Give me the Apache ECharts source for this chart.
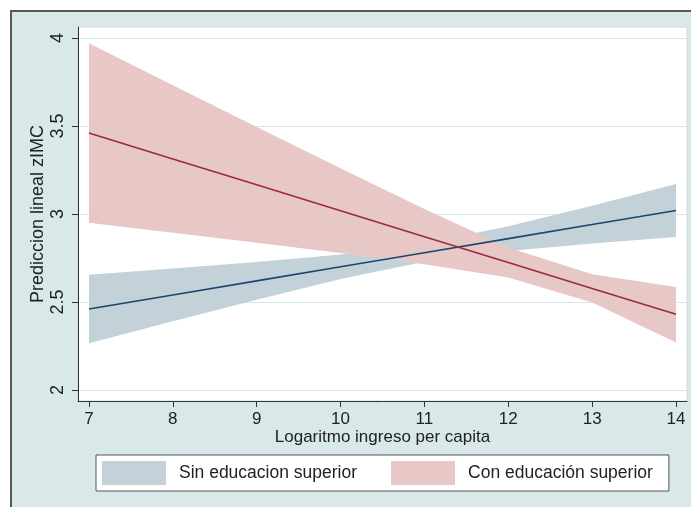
<!DOCTYPE html>
<html>
<head>
<meta charset="utf-8">
<script src="https://cdn.jsdelivr.net/npm/echarts@6/dist/echarts.min.js"></script>
<style>
  html, body { margin: 0; padding: 0; background: #ffffff; }
  #chart { width: 691px; height: 507px; }
</style>
</head>
<body>
<div id="chart"></div>
<script>
// Log per-capita income grid used for the linear predictions
var ingreso = [7, 8, 9, 10, 11, 12, 13, 14];

// Without higher education: prediction and 95% CI
var sinPred  = [2.46, 2.54, 2.62, 2.70, 2.78, 2.86, 2.94, 3.02];
var sinUpper = [2.655, 2.69, 2.727, 2.77, 2.832, 2.93, 3.047, 3.17];
var sinLower = [2.265, 2.39, 2.513, 2.63, 2.728, 2.79, 2.833, 2.87];

// With higher education: prediction and 95% CI
var conPred  = [3.46, 3.313, 3.166, 3.019, 2.871, 2.724, 2.577, 2.43];
var conUpper = [3.97, 3.732, 3.495, 3.26, 3.028, 2.809, 2.657, 2.585];
var conLower = [2.95, 2.894, 2.837, 2.778, 2.714, 2.639, 2.497, 2.27];

var xTicks = [7, 8, 9, 10, 11, 12, 13, 14];
var yTicks = [2, 2.5, 3, 3.5, 4];

var SIN = 'Sin educacion superior';
var CON = 'Con educación superior';

var colors = {
  sinBand: '#c3d1d9',
  sinLine: '#1a476f',
  conBand: '#e8c7c7',
  conLine: '#9b2c35',
  bg: '#d9e8e9',
  grid: '#d6e7ea'
};

function pairs(ys) {
  return ingreso.map(function (x, i) { return [x, ys[i]]; });
}
function bandRows(lo, up) {
  return ingreso.map(function (x, i) { return [x, lo[i], up[i]]; });
}

// Confidence band drawn as one polygon: upper edge left to right, lower edge back
function bandSeries(name, lo, up, fill, z) {
  var rows = bandRows(lo, up);
  return {
    name: name,
    type: 'custom',
    z: z,
    silent: true,
    itemStyle: { color: fill },
    encode: { x: 0, y: [1, 2] },
    data: rows,
    renderItem: function (params, api) {
      if (params.dataIndex !== 0) return null;
      var pts = [];
      var i;
      for (i = 0; i < rows.length; i++) pts.push(api.coord([rows[i][0], rows[i][2]]));
      for (i = rows.length - 1; i >= 0; i--) pts.push(api.coord([rows[i][0], rows[i][1]]));
      return {
        type: 'polygon',
        shape: { points: pts },
        style: { fill: fill, stroke: null }
      };
    }
  };
}

var font = 'Liberation Sans, Arial, Helvetica, sans-serif';

var chart = echarts.init(document.getElementById('chart'), null, { renderer: 'canvas' });

chart.setOption({
  animation: false,
  backgroundColor: '#ffffff',
  textStyle: { fontFamily: font },
  graphic: [{
    type: 'rect',
    z: -10,
    silent: true,
    shape: { x: 11, y: 11, width: 720, height: 540 },
    style: { fill: colors.bg, stroke: '#585858', lineWidth: 2 }
  }],
  grid: {
    left: 78, top: 27, right: 4, bottom: 106,
    show: true,
    backgroundColor: '#ffffff',
    borderColor: '#cfdcdf',
    borderWidth: 1
  },
  xAxis: {
    type: 'value',
    min: 6.869, max: 14.131,
    name: 'Logaritmo ingreso per capita',
    nameLocation: 'middle',
    nameGap: 28,
    nameMoveOverlap: false,
    nameTextStyle: { fontSize: 17, color: '#222', fontFamily: font },
    axisLine: { show: true, onZero: false, lineStyle: { color: '#333', width: 1 } },
    axisTick: { show: true, length: 6, lineStyle: { color: '#333' }, customValues: xTicks },
    axisLabel: { fontSize: 17, color: '#222', margin: 10, customValues: xTicks, fontFamily: font },
    splitLine: { show: false }
  },
  yAxis: {
    type: 'value',
    min: 1.9375, max: 4.0625,
    name: 'Prediccion lineal zIMC',
    nameLocation: 'middle',
    nameGap: 31,
    nameMoveOverlap: false,
    nameTextStyle: { fontSize: 18, color: '#222', fontFamily: font },
    axisLine: { show: true, onZero: false, lineStyle: { color: '#333', width: 1 } },
    axisTick: { show: true, length: 6, lineStyle: { color: '#333' }, customValues: yTicks },
    axisLabel: { fontSize: 18, color: '#222', rotate: 90, margin: 11, customValues: yTicks, fontFamily: font },
    splitLine: { show: true, lineStyle: { color: colors.grid, width: 1.2 } }
  },
  legend: {
    left: 96, top: 455,
    orient: 'horizontal',
    backgroundColor: '#ffffff',
    borderColor: '#555',
    borderWidth: 1,
    borderRadius: 0,
    padding: [6, 16, 6, 6],
    itemWidth: 64,
    itemHeight: 24,
    itemGap: 34,
    textStyle: { fontSize: 17.5, color: '#222', padding: [0, 0, 0, 8], fontFamily: font },
    selectedMode: false,
    data: [
      { name: SIN, icon: 'rect', itemStyle: { color: colors.sinBand } },
      { name: CON, icon: 'rect', itemStyle: { color: colors.conBand } }
    ]
  },
  series: [
    bandSeries(SIN, sinLower, sinUpper, colors.sinBand, 2),
    bandSeries(CON, conLower, conUpper, colors.conBand, 3),
    {
      name: 'sinPred', type: 'line', data: pairs(sinPred),
      symbol: 'none', lineStyle: { color: colors.sinLine, width: 1.6 }, z: 4
    },
    {
      name: 'conPred', type: 'line', data: pairs(conPred),
      symbol: 'none', lineStyle: { color: colors.conLine, width: 1.6 }, z: 5
    }
  ]
});
</script>
</body>
</html>
